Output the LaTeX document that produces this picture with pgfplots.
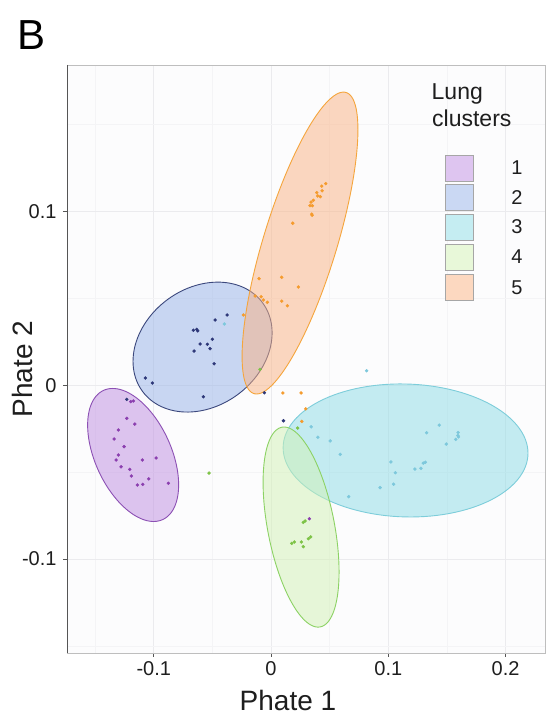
\documentclass[border=0pt]{standalone}
\usepackage{pgfplots}
\pgfplotsset{compat=1.18}
\usepackage{fontspec}
\setmainfont{Liberation Sans}

% fills (semi-transparent), outlines, points
\definecolor{f1}{RGB}{190,140,225}\definecolor{e1}{RGB}{140,80,180}\definecolor{p1}{RGB}{139,62,175}
\definecolor{f2}{RGB}{150,178,232}\definecolor{e2}{RGB}{60,72,125}\definecolor{p2}{RGB}{45,55,120}
\definecolor{f3}{RGB}{140,220,230}\definecolor{e3}{RGB}{125,205,218}\definecolor{p3}{RGB}{125,200,220}
\definecolor{f4}{RGB}{210,242,180}\definecolor{e4}{RGB}{140,210,100}\definecolor{p4}{RGB}{125,195,70}
\definecolor{f5}{RGB}{250,178,130}\definecolor{e5}{RGB}{245,165,60}\definecolor{p5}{RGB}{245,155,45}
% legend keys (opaque)
\definecolor{k1}{RGB}{222,197,240}\definecolor{k2}{RGB}{202,216,243}
\definecolor{k3}{RGB}{197,237,242}\definecolor{k4}{RGB}{232,248,217}
\definecolor{k5}{RGB}{252,216,192}
\definecolor{bgc}{RGB}{252,252,253}
\definecolor{gridc}{RGB}{235,235,238}
\definecolor{gridm}{RGB}{244,244,246}
\definecolor{bordc}{RGB}{190,190,190}
\definecolor{axisc}{RGB}{85,85,85}
\definecolor{txtc}{RGB}{30,30,30}

\begin{document}
\begin{tikzpicture}
\path[use as bounding box] (0pt,0pt) rectangle (546pt,718pt);
\begin{axis}[
  at={(67pt,65pt)}, anchor=south west,
  scale only axis, width=478pt, height=588pt,
  xmin=-0.174, xmax=0.2336, ymin=-0.1541, ymax=0.1844,
  xtick={-0.1,0,0.1,0.2}, ytick={-0.1,0,0.1},
  minor xtick={-0.15,-0.05,0.05,0.15},
  minor ytick={-0.15,-0.05,0.05,0.15},
  grid=both,
  major grid style={line width=0.6pt, draw=gridc},
  minor grid style={line width=0.5pt, draw=gridm},
  tick align=outside, major tick length=4pt, minor tick length=0pt,
  xtick pos=bottom, ytick pos=left,
  tick style={draw=axisc, line width=0.8pt},
  axis line style={draw=bordc, line width=0.8pt},
  axis background/.style={fill=bgc},
  tick label style={font=\fontsize{20}{22}\selectfont, text=txtc},
  xticklabel style={yshift=-1pt},
  yticklabel style={xshift=-3pt},
  /pgf/number format/assume math mode=true,
]
% confidence ellipses: centre (cx,cy), half-extents a,b, phase d
\addplot[fill=f1, fill opacity=0.5, draw=e1, line width=0.9pt, domain=0:360, samples=121, variable=\t]
  ({-0.1176 + 0.0388*cos(t)}, {-0.0401 + 0.0383*cos(t + 116.7)});
\addplot[fill=f2, fill opacity=0.5, draw=e2, line width=0.9pt, domain=0:360, samples=121, variable=\t]
  ({-0.0584 + 0.0593*cos(t)}, {0.0220 + 0.0374*cos(t + 77.3)});
\addplot[fill=f3, fill opacity=0.5, draw=e3, line width=0.9pt, domain=0:360, samples=121, variable=\t]
  ({0.1147 + 0.1044*cos(t)}, {-0.0375 + 0.0383*cos(t + 92.3)});
\addplot[fill=f4, fill opacity=0.5, draw=e4, line width=0.9pt, domain=0:360, samples=121, variable=\t]
  ({0.0256 + 0.0324*cos(t)}, {-0.0816 + 0.0576*cos(t + 116.6)});
\addplot[fill=f5, fill opacity=0.5, draw=e5, line width=0.9pt, domain=0:360, samples=121, variable=\t]
  ({0.0247 + 0.0494*cos(t)}, {0.0819 + 0.0869*cos(t + 41.4)});

% cluster 1
\addplot[only marks, mark=*, mark size=1.5pt, color=p1] coordinates {
(-0.1196,-0.0094) (-0.1174,-0.0090) (-0.1230,-0.0190) (-0.1162,-0.0223)
(-0.1302,-0.0257) (-0.1338,-0.0309) (-0.1253,-0.0353) (-0.1302,-0.0401)
(-0.1321,-0.0430) (-0.1097,-0.0430) (-0.0980,-0.0418) (-0.1279,-0.0469)
(-0.1205,-0.0484) (-0.1191,-0.0522) (-0.1043,-0.0539) (-0.1140,-0.0574)
(-0.1094,-0.0570) (-0.0876,-0.0564) (0.0327,-0.0768)
};
% cluster 2
\addplot[only marks, mark=*, mark size=1.5pt, color=p2] coordinates {
(-0.0375,0.0405) (-0.0477,0.0376) (-0.0662,0.0317) (-0.0633,0.0322)
(-0.0625,0.0313) (-0.0500,0.0265) (-0.0605,0.0238) (-0.0543,0.0236)
(-0.0520,0.0211) (-0.0656,0.0197) (-0.0486,0.0124) (-0.1072,0.0042)
(-0.1012,0.0013) (-0.0577,-0.0066) (-0.0057,-0.0043) (-0.1230,-0.0081)
(0.0106,-0.0204)
};
% cluster 3
\addplot[only marks, mark=*, mark size=1.5pt, color=p3] coordinates {
(0.0815,0.0084) (0.0342,-0.0239) (0.0400,-0.0299) (0.0504,-0.0320)
(0.0590,-0.0398) (0.0662,-0.0641) (0.0930,-0.0589) (0.1045,-0.0569)
(0.1022,-0.0441) (0.1060,-0.0503) (0.1227,-0.0482) (0.1278,-0.0478)
(0.1298,-0.0448) (0.1315,-0.0443) (0.1327,-0.0273) (0.1434,-0.0229)
(0.1494,-0.0338) (0.1575,-0.0311) (0.1593,-0.0289) (0.1595,-0.0272)
(0.1598,-0.0297) (-0.0398,0.0353)
};
% cluster 4
\addplot[only marks, mark=*, mark size=1.5pt, color=p4] coordinates {
(0.0275,-0.0789) (0.0290,-0.0781) (0.0176,-0.0910) (0.0199,-0.0902)
(0.0258,-0.0902) (0.0275,-0.0929) (0.0318,-0.0883) (0.0338,-0.0873)
(-0.0094,0.0092) (0.0227,-0.0246) (-0.0529,-0.0505)
};
% cluster 5
\addplot[only marks, mark=*, mark size=1.5pt, color=p5] coordinates {
(0.0466,0.1161) (0.0432,0.1147) (0.0435,0.1120) (0.0390,0.1109)
(0.0398,0.1090) (0.0420,0.1086) (0.0361,0.1065) (0.0341,0.1055)
(0.0332,0.1034) (0.0352,0.1034) (0.0347,0.0986) (0.0350,0.0979)
(0.0185,0.0933) (-0.0102,0.0614) (0.0091,0.0622) (0.0233,0.0566)
(-0.0136,0.0514) (-0.0085,0.0510) (-0.0066,0.0491) (-0.0032,0.0478)
(0.0091,0.0485) (0.0139,0.0458) (-0.0236,0.0405) (0.0101,-0.0044)
(0.0256,-0.0044) (0.0296,-0.0136) (0.0262,-0.0208)
};
\draw[axisc, line width=0.8pt] (rel axis cs:0,1) -- (rel axis cs:0,0) -- (rel axis cs:1,0);
\end{axis}

% axis titles and panel letter
\node[font=\fontsize{28}{30}\selectfont, text=txtc, anchor=base, inner sep=0pt] at (288pt,8pt) {Phate 1};
\node[font=\fontsize{28}{30}\selectfont, text=txtc, anchor=base, rotate=90, inner sep=0pt] at (32pt,349pt) {Phate 2};
\node[font=\fontsize{42}{44}\selectfont, text=black, anchor=base west, inner sep=0pt] at (17pt,668pt) {B};

% legend
\node[font=\fontsize{23}{25}\selectfont, text=txtc, anchor=base west, inner sep=0pt] at (431.5pt,618pt) {Lung};
\node[font=\fontsize{23}{25}\selectfont, text=txtc, anchor=base west, inner sep=0pt] at (432pt,591pt) {clusters};
\foreach \c/\yy/\lab in {k1/550/1, k2/520.5/2, k3/491/3, k4/461/4, k5/430.5/5} {
  \draw[fill=\c, draw=gray!70, line width=0.6pt] (445pt,\yy pt-13pt) rectangle (473pt,\yy pt+13pt);
  \node[font=\fontsize{20}{22}\selectfont, text=txtc, anchor=center, inner sep=0pt] at (517pt,\yy pt) {\lab};
}
\end{tikzpicture}
\end{document}
